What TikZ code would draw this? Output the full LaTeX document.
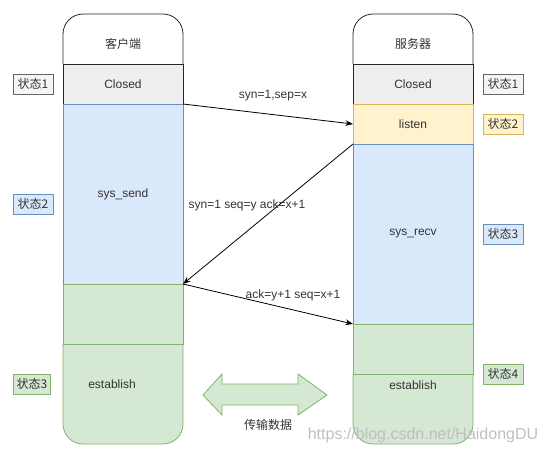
\documentclass[tikz,border=0pt]{standalone}
\usepackage{fontspec}
\setmainfont{Liberation Sans}
\newfontfamily\cjk{Noto Sans CJK SC}
\usetikzlibrary{arrows.meta}
\definecolor{closedfill}{HTML}{EEEEEE}
\definecolor{grayfill}{HTML}{F5F5F5}
\definecolor{graydraw}{HTML}{666666}
\definecolor{bluefill}{HTML}{DAE8FC}
\definecolor{bluedraw}{HTML}{6C8EBF}
\definecolor{yellowfill}{HTML}{FFF2CC}
\definecolor{yellowdraw}{HTML}{D6B656}
\definecolor{greenfill}{HTML}{D5E8D4}
\definecolor{greendraw}{HTML}{82B366}
\definecolor{textgray}{HTML}{333333}
\begin{document}
\begin{tikzpicture}[x=0.75pt,y=-0.75pt,line width=0.6pt,>=Stealth,
    font=\fontsize{9}{11}\selectfont, text=textgray,
    sect/.style={draw, minimum width=90pt, inner sep=0pt, outer sep=0pt},
    tag/.style={draw, minimum width=30pt, minimum height=15pt, inner sep=1pt, font=\cjk\fontsize{9}{11}\selectfont},
    grayst/.style={fill=grayfill, draw=graydraw},
    bluest/.style={fill=bluefill, draw=bluedraw},
    yellowst/.style={fill=yellowfill, draw=yellowdraw},
    greenst/.style={fill=greenfill, draw=greendraw}]
    \useasboundingbox (0,0) rectangle (553,453);

    % client column
    \draw[black!85, rounded corners=15pt] (63,64) -- (63,14) -- (183,14) -- (183,64);
    \node (cHead) at (123,44) {\cjk 客户端};
    \node[sect, fill=closedfill, draw=black!85, minimum height=30pt] (cClosed) at (123,84) {Closed};
    \node[sect, bluest, minimum height=135pt] (cSend) at (123,194) {sys\_send};
    \draw[greenst, rounded corners=15pt] (63,344) -- (63,444) -- (183,444) -- (183,344);
    \node[sect, greenst, minimum height=45pt] (cSyn) at (123,314) {};
    \node (cEst) at (112,384) {establish};

    % server column
    \draw[black!85, rounded corners=15pt] (353,64) -- (353,14) -- (473,14) -- (473,64);
    \node (sHead) at (413,44) {\cjk 服务器};
    \node[sect, fill=closedfill, draw=black!85, minimum height=30pt] (sClosed) at (413,84) {Closed};
    \node[sect, yellowst, minimum height=30pt] (sListen) at (413,124) {listen};
    \node[sect, bluest, minimum height=135pt] (sRecv) at (413,234) {sys\_recv};
    \draw[greenst, rounded corners=15pt] (353,374) -- (353,444) -- (473,444) -- (473,374);
    \node[sect, greenst, minimum height=37.5pt] (sAck) at (413,349) {};
    \node (sEst) at (413,385) {establish};

    % state tags
    \node[tag, grayst] (cTagA) at (33,84) {状态1};
    \node[tag, bluest] (cTagB) at (33,204) {状态2};
    \node[tag, greenst, minimum width=28pt] (cTagC) at (32,384) {状态3};
    \node[tag, grayst] (sTagA) at (503,84) {状态1};
    \node[tag, yellowst] (sTagB) at (503,124) {状态2};
    \node[tag, bluest] (sTagC) at (503,234) {状态3};
    \node[tag, greenst] (sTagD) at (503,374) {状态4};

    % handshake
    \draw[->, black] (cClosed.south east) -- (sListen.west);
    \draw[->, black] (sListen.south west) -- (cSend.south east);
    \draw[->, black] (cSend.south east) -- (sRecv.south west);
    \node (synA) at (273,96) {syn=1,sep=x};
    \node (synB) at (247,205) {syn=1 seq=y ack=x+1};
    \node (ackC) at (293,295) {ack=y+1 seq=x+1};

    % data transfer
    \draw[greenst] (203,395) -- (222,374) -- (222,384) -- (298,384) -- (298,374)
      -- (327,395) -- (298,415) -- (298,405) -- (222,405) -- (222,415) -- cycle;
    \node (xfer) at (268,425) {\cjk 传输数据};

    \node[text=black!25, font=\fontsize{12}{14}\selectfont] (mark) at (423,435) {https://blog.csdn.net/HaidongDU};
\end{tikzpicture}
\end{document}
